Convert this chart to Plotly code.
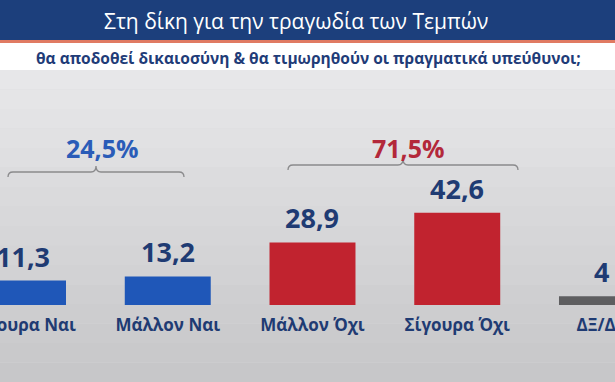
import plotly.graph_objects as go

# ---- data ----
categories = ["Σίγουρα Ναι", "Μάλλον Ναι", "Μάλλον Όχι", "Σίγουρα Όχι", "ΔΞ/ΔΑ"]
values = [11.3, 13.2, 28.9, 42.6, 4]
bar_colors = ["#1f57b8", "#1f57b8", "#c1232f", "#c1232f", "#5e5e60"]
group_labels = ["24,5%", "71,5%"]
group_colors = ["#2a5cb8", "#b3283a"]
title_text = "Στη δίκη για την τραγωδία των Τεμπών"
subtitle_text = "θα αποδοθεί δικαιοσύνη & θα τιμωρηθούν οι πραγματικά υπεύθυνοι;"

W, H = 615, 382
navy = "#1f3b73"

def py(pix):
    return 1 - pix / H

def px(pix):
    return pix / W

def fmt(v):
    s = f"{v:g}"
    return s.replace(".", ",")

fig = go.Figure()
fig.add_trace(go.Bar(
    x=categories, y=values, marker=dict(color=bar_colors, line=dict(width=0)),
    width=0.594, hoverinfo="skip", cliponaxis=False,
))

shapes = []
# background gradient bands
top_c = (0xe9, 0xe9, 0xeb)
bot_c = (0xc6, 0xc6, 0xc8)
n = 16
y0p = 70
for i in range(n):
    a = y0p + (H - y0p) * i / n
    b = y0p + (H - y0p) * (i + 1) / n
    t = (i + 0.5) / n
    c = tuple(int(top_c[k] + (bot_c[k] - top_c[k]) * t) for k in range(3))
    shapes.append(dict(type="rect", xref="paper", yref="paper", x0=0, x1=1,
                       y0=py(b), y1=py(a), fillcolor="rgb(%d,%d,%d)" % c,
                       line=dict(width=0), layer="below"))
# header
shapes.append(dict(type="rect", xref="paper", yref="paper", x0=0, x1=1, y0=py(40), y1=1,
                   fillcolor="#1c3f7c", line=dict(width=0), layer="below"))
shapes.append(dict(type="rect", xref="paper", yref="paper", x0=0, x1=1, y0=py(43), y1=py(40),
                   fillcolor="#e07a62", line=dict(width=0), layer="below"))
shapes.append(dict(type="rect", xref="paper", yref="paper", x0=0, x1=1, y0=py(70), y1=py(43),
                   fillcolor="#ffffff", line=dict(width=0), layer="below"))

annotations = [
    dict(text=title_text, x=px(296), y=py(21), xref="paper", yref="paper", showarrow=False,
         xanchor="center", yanchor="middle",
         font=dict(family="Open Sans", size=21, color="white")),
    dict(text="<b>" + subtitle_text + "</b>", x=px(308), y=py(58), xref="paper", yref="paper",
         showarrow=False, xanchor="center", yanchor="middle",
         font=dict(family="Open Sans", size=15.5, color="#1f3c78")),
]

# value labels
for c, v in zip(categories, values):
    annotations.append(dict(text="<b>" + fmt(v) + "</b>", x=c, y=v, xref="x", yref="y",
                            yanchor="bottom", xanchor="center", yshift=4, showarrow=False,
                            font=dict(family="Open Sans", size=27, color=navy)))

# group brackets (decoration, pixel layout)
bracket_geom = [  # (left px, right px, peak px, line y px)
    (8, 184, 96, 172),
    (288, 518, 403, 165),
]
label_x = [102, 408]
for (xa_p, xb_p, xm_p, by), lab, col, lx in zip(bracket_geom, group_labels, group_colors, label_x):
    xa, xb, xm = px(xa_p), px(xb_p), px(xm_p)
    d = px(5)
    yl = py(by)
    yt = py(by + 5)
    yp = py(by - 6)
    path = (f"M {xa},{yt} Q {xa},{yl} {xa + d},{yl} L {xm - d},{yl} "
            f"Q {xm},{yl} {xm},{yp} Q {xm},{yl} {xm + d},{yl} L {xb - d},{yl} "
            f"Q {xb},{yl} {xb},{yt}")
    shapes.append(dict(type="path", xref="paper", yref="paper", path=path,
                       line=dict(color="#8a8a8c", width=1.3)))
    annotations.append(dict(text="<b>" + lab + "</b>", x=px(lx), y=py(148), xref="paper",
                            yref="paper", showarrow=False, xanchor="center", yanchor="middle",
                            font=dict(family="Open Sans", size=25, color=col)))

fig.update_layout(
    width=W, height=H, margin=dict(l=0, r=0, t=0, b=0, autoexpand=False),
    paper_bgcolor="#d8d8da", plot_bgcolor="rgba(0,0,0,0)",
    showlegend=False, shapes=shapes, annotations=annotations,
    xaxis=dict(range=[-0.159, 4.09], showgrid=False, zeroline=False, showline=False,
               automargin=False,
               ticks="outside", ticklen=5, tickcolor="rgba(0,0,0,0)",
               tickfont=dict(family="Open Sans", size=17, color=navy, weight="bold"),
               fixedrange=True),
    yaxis=dict(domain=[py(305), py(80)], range=[0, 104], visible=False, fixedrange=True,
               automargin=False),
)

fig.write_html("out.html", config={"displayModeBar": False},
               post_script="document.body.style.margin='0';")
